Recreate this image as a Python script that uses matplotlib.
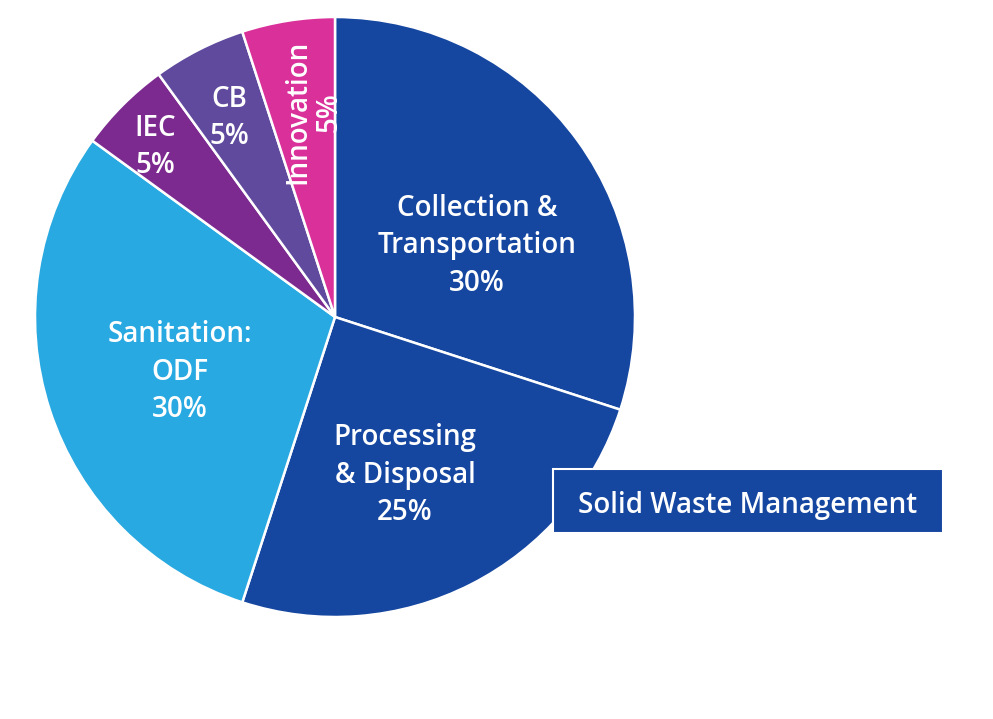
import matplotlib.pyplot as plt
from matplotlib.patches import Rectangle

# slice data, clockwise from 12 o'clock
categories = ["Collection &\nTransportation", "Processing\n& Disposal", "Sanitation:\nODF",
              "IEC", "CB", "Innovation"]
shares = [30, 25, 30, 5, 5, 5]
colors = ["#1546a0", "#1546a0", "#29a9e1", "#7c2a8f", "#5f4a9e", "#d9309a"]

# label centres in pixel coords (x, y from top)
label_pos = [(477, 246), (405, 475), (180, 372), (155, 147), (229, 118), (313, 112)]
label_rot = [0, 0, 0, 0, 0, 90]
label_space = [1.4, 1.4, 1.4, 1.4, 1.4, 1.1]

W, H = 993, 719
fig = plt.figure(figsize=(W / 100, H / 100), dpi=100)
ax = fig.add_axes([0, 0, 1, 1])

cx, cy, r = 335, H - 317, 300
ax.pie(shares, colors=colors, startangle=90, counterclock=False,
       center=(cx, cy), radius=r, frame=True,
       wedgeprops=dict(edgecolor="white", linewidth=1.8))
ax.set_xlim(0, W)
ax.set_ylim(0, H)
ax.set_aspect("equal")
ax.axis("off")

for name, val, (x, y), rot, ls in zip(categories, shares, label_pos, label_rot, label_space):
    ax.text(x, H - y, f"{name}\n{val}%", ha="center", va="center", rotation=rot,
            color="white", fontsize=20, fontweight="semibold", family="Open Sans",
            linespacing=ls, multialignment="center")

# label box on the right
ax.add_patch(Rectangle((553, H - 533), 390, 64, facecolor="#1546a0",
                       edgecolor="white", linewidth=1.5, zorder=5))
ax.text(748, H - 506, "Solid Waste Management", ha="center", va="center",
        color="white", fontsize=20, fontweight="semibold", family="Open Sans", zorder=6)

fig.savefig("out.png", dpi=100)
